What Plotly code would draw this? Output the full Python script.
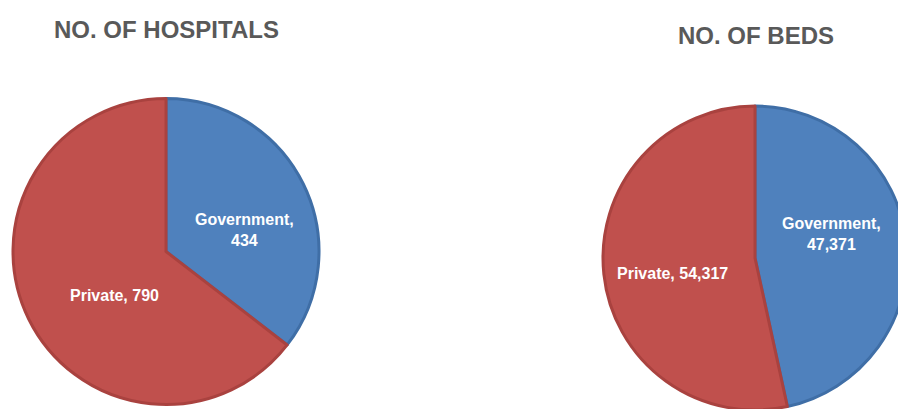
import plotly.graph_objects as go

# Hospital ownership data
categories = ["Government", "Private"]
hospitals = [434, 790]
beds = [47371, 54317]
titles = ["NO. OF HOSPITALS", "NO. OF BEDS"]

slice_colors = ["#4f81bd", "#c0504d"]
rim_colors = ["#3f6ea6", "#a9423f"]

W, H = 912, 414


def domain(cx, cy, r):
    """Pie domain (paper coords) for a pie centred at pixel (cx, cy) with radius r."""
    return dict(
        x=[(cx - r) / W, (cx + r) / W],
        y=[1 - (cy + r) / H, 1 - (cy - r) / H],
    )


fig = go.Figure()

pies = [
    (hospitals, (166, 251.5, 153)),
    (beds, (755, 258, 152)),
]
for values, (cx, cy, r) in pies:
    fig.add_trace(go.Pie(
        labels=categories,
        values=values,
        sort=False,
        direction="clockwise",
        rotation=0,
        textinfo="none",
        hoverinfo="label+value",
        marker=dict(colors=slice_colors, line=dict(color=rim_colors, width=3)),
        domain=domain(cx, cy, r),
        showlegend=False,
    ))

lbl_font = dict(family="Liberation Sans, Arial, sans-serif", size=16, color="white")
ttl_font = dict(family="Liberation Sans, Arial, sans-serif", size=24, color="#595959")

annotations = []
# Titles
for text, (x, y) in zip(titles, [(166, 30), (756, 35)]):
    annotations.append(dict(text=f"<b>{text}</b>", x=x / W, y=1 - y / H, xref="paper", yref="paper",
                            showarrow=False, font=ttl_font, xanchor="center", yanchor="middle"))

# Slice labels: "Category, value" (Government wraps onto two lines)
label_pos = [
    [(245, 230), (114, 295)],
    [(831, 234), (672, 273)],
]
for values, positions in zip([hospitals, beds], label_pos):
    for name, value, (x, y) in zip(categories, values, positions):
        sep = "<br>" if name == "Government" else " "
        text = f"<b>{name},{sep}{value:,}</b>"
        annotations.append(dict(text=text, x=x / W, y=1 - y / H, xref="paper", yref="paper",
                                showarrow=False, font=lbl_font, xanchor="center", yanchor="middle"))

fig.update_layout(
    width=W,
    height=H,
    margin=dict(l=0, r=0, t=0, b=0),
    paper_bgcolor="white",
    plot_bgcolor="white",
    annotations=annotations,
)

fig.write_html(
    "out.html",
    config={"displayModeBar": False},
    post_script="document.body.style.overflow='hidden'; document.body.style.margin='0';",
)
